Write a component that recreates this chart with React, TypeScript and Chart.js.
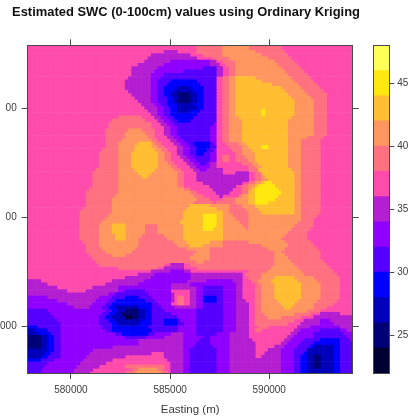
import React, { useEffect, useRef } from "react";
import { Chart, registerables } from "chart.js";

Chart.register(...registerables);

const TITLE = "Estimated SWC (0-100cm) values using Ordinary Kriging";
const X_TITLE = "Easting (m)";

// Colour key: one band per letter, lowest to highest
const bandKeys = ["a", "b", "c", "d", "e", "f", "g", "h", "i", "j", "k", "l", "m"];
const bandLows = [22, 24, 26, 28, 30, 32, 34, 36, 38, 40, 42, 44, 46];
const bandColors = [
  "#000033", "#000077", "#0000BB", "#0000FF", "#5500FF", "#8F00FF", "#B41FD2",
  "#FF4CAC", "#FF7080", "#FF9660", "#FFBE32", "#FFE710", "#FFFF55",
];
const backgroundBand = 7;
const keyTicks = [25, 30, 35, 40, 45];

const eastTicks = [580000, 585000, 590000];
const northTicks = [6100000, 6105000, 6110000];
const northLabels = ["000", "00", "00"];

// Kriged SWC raster, north to south: each row lists band letter + last column (exclusive), 100 columns
const swcRows = [
  "h52i60j68i78h100",
  "h52i60j68i78h100",
  "h42g46h52i60j70i79h100",
  "h38g50h54i60j72i80h100",
  "h37g52h57i62j74i81h100",
  "h36g44f56g58h60i64j76i82h100",
  "h34g42f56g59h61i64j77i83h100",
  "h32g40f54e58g60h62i64j78i84h100",
  "h32g39f48e58g60h62i64j79i85h100",
  "h32g38f42e58g60h62i64j80i86h100",
  "h31g38f41e58h60i62j64k70j81i87h100",
  "h30g38f40e44d52e58h60i62j64k72j82i88h100",
  "h30g38f40e43d53e58h60i62j64k75j83i89h100",
  "h30g38f40e42d46c50d54e58h60i62j64k78j84i90h100",
  "h31g38f40e42d45c51d54e58h60i62j64k79j85i91h100",
  "h32g38f40e42d44c46b50c52d54e58h60i62j64k80j86i92h100",
  "h33g38f40e43d45c47b50c52d54e58h60i62j64k81j87i92h100",
  "h34g38f40e43d45c46b50c52d54e58h60i62j64k82j88i92h100",
  "h35g39f41e43d46c51d54e58h60i62j64k82j88i92h100",
  "h36g40f42e44d46c52d54e58h60i62j64k82j88i92h100",
  "h37g40f42e44d46c50d53e58h60i62j64k72l73k82j88i92h100",
  "h38g40f42e44d52e58h60i62j64k72l73k82j88i92h100",
  "h28i35h39g41f43e45d51e58h60i62j65k81j88i92h100",
  "h26i36h40g42f44e46d50e58h60i62j66k80j88i92h100",
  "h25i38h41g43f45e57f58h60i62j66k80j88i92h100",
  "h25i38h42g44f46e56f58h60i62j66k80j88i92h100",
  "h24i31j35i39h42g44f46e56f58h60i62j66k80j88i92h100",
  "h24i30j36i39h42g44f46e56f58h60i62j66k80j88i92h100",
  "h24i30j37i39h43g45f47e56f58h60i62j66k80j86i91h100",
  "h24i29j38i40h44g46f48e56f58h60i62j66k80j84i90h100",
  "h24i28j34k38j39i41h45g47f49e51d56e57f58h61i65j67k80j84i90h100",
  "h24i28j33k38j40i42h46g48f50e52d56e58h62i66j68k72l74k80j84i90h100",
  "h23i28j33k39j41i43h46g48f50e52d55e57f58h63i66j69k80j84i90h100",
  "h22i28j32k40j42i44h46g48f50e52d54e56f58h64i66j70k80j84i90h100",
  "h22i28j32k40j42i44h47g49f51e56f58h60i62h64i67j70k80j84i90h100",
  "h22i28j32k40j42i44h48g50f52e56f58h60i62h64i68j70k80j84i90h100",
  "h22i28j32k40j43i45h49g51f53e55f56g58h66i69j71k80j84i90h100",
  "h22i28j32k40j44i46h50g52f56g58h68i70j72k80j84i90h100",
  "h21i28j33k39j45i47h51g53f55g60h68i71k81j84i90h100",
  "h20i28j34k38j46i48h52g60h64g68h70i72k82j84i90h100",
  "h20i28j35k37j46i48h52g68h70i72j73k82j84i90h100",
  "h20i28j46i48h52g68h70i72j74k82j84i90h100",
  "h20i28j46i48h54g66h68i70j72k73l75k82j84i90h100",
  "h20i28j46i48h56g64h66i68j70k71l76k82j84i90h100",
  "h19i28j48i50h57g63h66i68j69k70l77k82j84i90h100",
  "h18i28j50i52h58g62h66i68k70l78k82j84i90h100",
  "h18i27j51i54h59g60h65i66j68k70l77k82j84i90h100",
  "h18i26j52i56h60i64j68k70l76k82j84i90h100",
  "h18i26j51i57h58i64j68k70l74k82j84i90h100",
  "h18i26j50k56j62i66j70k82j84i90h100",
  "h17i26j49k58j62i67j71k82j84i90h100",
  "h16i26j48k60j62i68j72k82j84i90h100",
  "h16i25j48k54l58k60j63i68j84i89h100",
  "h16i24j48k54l58k60j64i68j84i88h100",
  "h16i23j47k54l58k60j65i68j83i88h100",
  "h16i22j26k30j36i40j48k54l58k60j66i68j82i88h100",
  "h16i22j26k30j36i40j48k54l57k60j67i68j81i87h100",
  "h16i22j26k30j36i40j48k60j80i86h100",
  "h16i22j27k30j35i42j48k60j79i86h100",
  "h16i22j27k30j34i43j48k60j78i86h100",
  "h17i22j34i45j49k56j60i68j79i87h100",
  "h18i22j34i46j50k54j60i72j80i88h100",
  "h18i23j33i49j56i74j79i89h100",
  "h18i24j32i52j56i76j78i90h100",
  "h19i26j30i51j56i76j79i90h100",
  "h20i50j56i76j80i90h100",
  "h21i52j54i76j81i91h100",
  "h22i42h44g48h50i76j82i92h100",
  "h28i40h42g48h52i75j83i93h100",
  "h38g44f48g50h68i74j84i94h100",
  "h34g39f50g66h67i72j85i95h100",
  "h30g38f50g66h68i72j76k82j88i96h100",
  "g4h26g36f49g55f63g66h69i71j75k83j89i96h100",
  "g6h24g34f44g50f64g66h70i72j76k84j90i96h100",
  "g9h20g28f44g52f54e60f64g66h70i72j76k84j90i96h100",
  "g12h18g28f30e36f44h50g52f54e60f64g66h70i72j76k84j90i96h100",
  "g25f27e37f44g45h50g52f54e60f64g66h70i72j76k84j90i96h100",
  "f6g22f26e30d34e38f44g45h46i48h50g52f54d58e60f64g66h70i72j76k84j90i96h100",
  "f9g21f25e27d36e39f44g45h46i48h50g52f54d58e60f64g67h70i72j77k83j89i95h100",
  "f12g20f24e26d38e40f44h46i48h50g52f54e60f64g68h70i72j78k82j88i94h100",
  "f14g19f23e25d27c34d38e41f45g52f54e60f64g68h70i72j79k81j88i92h100",
  "e6f24e26d28c30b34c36d38e42f52e60f64g68h70i72j86i90h100",
  "e7f23e25d27c29b34c36d38e44f52e60f64g68h70i73j82i87h90g96h100",
  "e8f22e24d26c30a32b34c36d38e46f52e60f64g68h70i74j78i84h88g100",
  "e9f22e25d27c35d38e42d46e47f52e60f64g68h70i82h85g90f93g100",
  "e10f22e26d28c34d38e42d46e48f52e60f64g68h70i80h84g90f94g100",
  "d3e10f23e26d37e46f52e60f64g68h71i74h83g87f96g100",
  "c2d6e10f24e26d38e46f52e60f64g68h70i72h82g84f90e96f98g100",
  "c3d7e10f27e29d37e39f44g48f52e58f62g68h81g83f88e97f100",
  "b4c6d8e10f30e36f42g48f54e56f62g68h80g82f88e98f100",
  "b4c6d8e10f34g48f53e56f62g69h79g81f85e90d96e99f100",
  "b4c6d8e10f34g48f52e56f62g70h78g80f84e88d96e100",
  "b4c6d8e10f26g48f51e57f62g70h76g79f83e87d88c94d96e100",
  "c6d8e10f20g48f50e58f62g70h74g78f82e86c94d96e100",
  "c5d7e10f19g38h42g48f50e58f62g70h73g78f82e85d86c94d96e100",
  "c4d6e10f18g30h42g48f50e58f62g70h72g78f82e84d86c88b90c94d96e100",
  "d4e8f17g26h43g48f50e58f62g78f82e84d86c88b90c94d96e100",
  "e6f16g24h44g48f50e58f62g78f82e84d86c88b90c94d96e100",
  "e5f15g22h30i42h44g48f50e58f62g78f82e84d86c88b90c94d96e100",
  "e4f14g20h32i34j40i42h44g48f50e58f62g78f82e84d86c94d96e100",
  "e4f14g19h30i33j41i43h44g48f50e58f62g78f82e84d86c94d96e100",
];

const EAST_MIN = 577820;
const EAST_MAX = 594210;
const NORTH_MIN = 6097840;
const NORTH_MAX = 6112910;
const COLS = 100;

const FONT = "'Liberation Sans', Arial, sans-serif";
const AXIS = "#4a4a4a";
const TEXT = "#3c3c3c";

function cellsByBand() {
  const cells = bandKeys.map(() => [] as { x: number; y: number }[]);
  const dx = (EAST_MAX - EAST_MIN) / COLS;
  const dy = (NORTH_MAX - NORTH_MIN) / (swcRows.length - 1);
  swcRows.forEach((row, r) => {
    let col = 0;
    for (const m of row.matchAll(/([a-m])(\d+)/g)) {
      const band = bandKeys.indexOf(m[1]);
      const end = Number(m[2]);
      for (; col < end; col++) {
        cells[band].push({
          x: EAST_MIN + (col + 0.5) * dx,
          y: NORTH_MAX - r * dy,
        });
      }
    }
  });
  return cells;
}

const setTicks = (values: number[]) => (axis: any) => {
  axis.ticks = values.map((value) => ({ value }));
};
const fit = (prop: "width" | "height", size: number) => (axis: any) => {
  axis[prop] = size;
};
const grid = { display: true, drawOnChartArea: false, drawTicks: true, tickLength: 6, tickColor: AXIS };
const border = { display: true, color: AXIS, width: 1, z: 2 };

export default function App() {
  const mainRef = useRef<HTMLCanvasElement>(null);
  const keyRef = useRef<HTMLCanvasElement>(null);

  useEffect(() => {
    const cells = cellsByBand();
    const main = new Chart(mainRef.current!, {
      type: "scatter",
      data: {
        datasets: bandKeys.map((k, i) => ({
          label: `${bandLows[i]}`,
          data: cells[i],
          pointStyle: "rect",
          pointRadius: 2.75,
          pointBorderWidth: 0,
          backgroundColor: bandColors[i],
          order: -Math.abs(i - backgroundBand),
          clip: 0,
        })),
      },
      options: {
        responsive: false,
        animation: false,
        events: [],
        layout: { padding: { left: 0, right: 43, top: 0, bottom: 0 } },
        plugins: {
          legend: { display: false },
          tooltip: { enabled: false },
          title: {
            display: true,
            text: TITLE,
            align: "center",
            color: "#111111",
            font: { family: FONT, size: 12.95, weight: "bold" },
            padding: { top: 5, bottom: 0 },
          },
        },
        scales: {
          x: {
            type: "linear",
            position: "bottom",
            min: EAST_MIN,
            max: EAST_MAX,
            afterBuildTicks: setTicks(eastTicks),
            afterFit: fit("height", 45),
            grid,
            border,
            ticks: {
              maxRotation: 0,
              color: TEXT,
              padding: 5,
              font: { family: FONT, size: 10 },
              callback: (v: any) => String(v),
            },
            title: {
              display: true,
              text: X_TITLE,
              color: TEXT,
              font: { family: FONT, size: 11.5 },
              padding: { top: 0, bottom: 1 },
            },
          },
          x2: {
            type: "linear",
            position: "top",
            min: EAST_MIN,
            max: EAST_MAX,
            afterBuildTicks: setTicks(eastTicks),
            afterFit: fit("height", 24.8),
            grid,
            border,
            ticks: { display: false },
          },
          y: {
            type: "linear",
            position: "left",
            min: NORTH_MIN,
            max: NORTH_MAX,
            afterBuildTicks: setTicks(northTicks),
            afterFit: fit("width", 27.7),
            grid,
            border,
            ticks: {
              color: TEXT,
              padding: 5,
              font: { family: FONT, size: 10 },
              callback: (v: any) => northLabels[northTicks.indexOf(v)],
            },
          },
          y2: {
            type: "linear",
            position: "right",
            min: NORTH_MIN,
            max: NORTH_MAX,
            afterBuildTicks: setTicks(northTicks),
            afterFit: fit("width", 19.3),
            grid,
            border,
            ticks: { display: false },
          },
        },
      },
    } as any);

    const key = new Chart(keyRef.current!, {
      type: "bar",
      data: {
        labels: ["SWC"],
        datasets: bandLows.map((low, i) => ({
          label: `${low}`,
          data: [[low, low + 2]],
          backgroundColor: bandColors[i],
          borderWidth: 0,
          barPercentage: 1,
          categoryPercentage: 1,
          grouped: false,
        })),
      },
      options: {
        responsive: false,
        animation: false,
        events: [],
        layout: { padding: { left: 13.3 } },
        plugins: { legend: { display: false }, tooltip: { enabled: false }, title: { display: false } },
        scales: {
          x: {
            type: "category",
            position: "bottom",
            afterFit: fit("height", 45),
            grid: { display: false },
            border,
            ticks: { display: false },
          },
          x2: {
            type: "category",
            labels: ["SWC"],
            position: "top",
            afterFit: fit("height", 45.3),
            grid: { display: false },
            border,
            ticks: { display: false },
          },
          y: {
            type: "linear",
            position: "right",
            min: 22,
            max: 48,
            afterBuildTicks: setTicks(keyTicks),
            afterFit: fit("width", 25.7),
            grid: { ...grid, tickLength: 5 },
            border,
            ticks: {
              color: TEXT,
              padding: 3,
              font: { family: FONT, size: 10 },
              callback: (v: any) => String(v),
            },
          },
          y2: {
            type: "linear",
            position: "left",
            min: 22,
            max: 48,
            afterFit: fit("width", 0),
            grid: { display: false },
            border,
            ticks: { display: false },
          },
        },
      },
    } as any);

    return () => {
      main.destroy();
      key.destroy();
    };
  }, []);

  return (
    <div style={{ position: "absolute", left: 0, top: 0, width: 415, height: 418, background: "#fff", overflow: "hidden" }}>
      <canvas ref={mainRef} width={415} height={418} style={{ position: "absolute", left: 0, top: 0 }} />
      <canvas ref={keyRef} width={55} height={418} style={{ position: "absolute", left: 360, top: 0 }} />
    </div>
  );
}
